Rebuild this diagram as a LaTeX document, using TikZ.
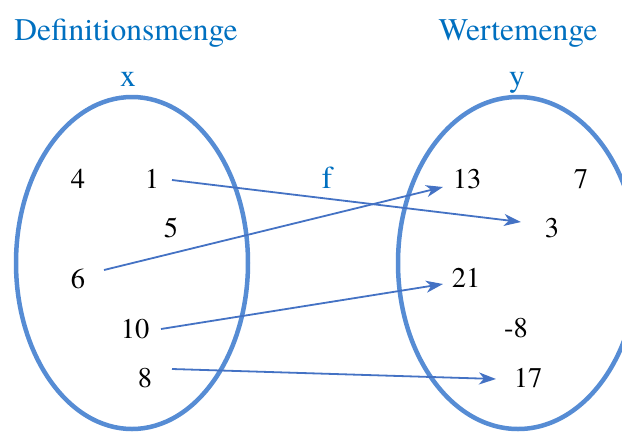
\documentclass[tikz,border=0pt]{standalone}
\usepackage{fontspec}
\setmainfont{texgyretermes-regular.otf}
\usetikzlibrary{arrows.meta}
\definecolor{ringblue}{RGB}{86,140,212}
\definecolor{arrowblue}{RGB}{68,114,196}
\definecolor{titleblue}{RGB}{0,112,192}
\tikzset{
  ring/.style={draw=ringblue, line width=4.5pt},
  num/.style={anchor=base, inner sep=0pt, font=\fontsize{28.5}{34}\selectfont, text=black},
  head/.style={anchor=base, inner sep=0pt, font=\fontsize{31.5}{36}\selectfont, text=titleblue},
  maparrow/.style={draw=arrowblue, line width=1.8pt, -{Stealth[length=17pt, width=12pt, inset=5pt]}}
}
\begin{document}
\begin{tikzpicture}[x=1pt,y=-1pt]
\useasboundingbox (0,0) rectangle (622,432);
\clip (0,0) rectangle (622,432);
\fill[white] (0,0) rectangle (622,432);
% sets
\draw[ring] (132,263) ellipse [x radius=116pt, y radius=166pt];
\draw[ring] (518,263) ellipse [x radius=120pt, y radius=166pt];
% headings
\node[head] (hdef) at (126,40) {Definitionsmenge};
\node[head] (hx) at (128,86) {x};
\node[head] (hwert) at (518,40) {Wertemenge};
\node[head] (hy) at (517,86) {y};
\node[head] (f) at (327,188) {f};
% domain
\node[num] (n4) at (78,188) {4};
\node[num] (n1) at (152,188) {1};
\node[num] (n5) at (171,237) {5};
\node[num] (n6) at (78,288) {6};
\node[num] (n10) at (135,338) {10};
\node[num] (n8) at (145,387) {8};
% codomain
\node[num] (n13) at (467,188) {13};
\node[num] (n7) at (581,188) {7};
\node[num] (n3) at (552,237) {3};
\node[num] (n21) at (466,287) {21};
\node[num] (nm8) at (516,337) {-8};
\node[num] (n17) at (528,387) {17};
% arrow end points
\coordinate (s1) at (172,180);
\coordinate (e3) at (521,222);
\coordinate (s6) at (104,270);
\coordinate (e13) at (443,187);
\coordinate (s10) at (161,329);
\coordinate (e21) at (443,284);
\coordinate (s8) at (172,369);
\coordinate (e17) at (496,379);
\draw[maparrow] (s1) -- (e3);
\draw[maparrow] (s6) -- (e13);
\draw[maparrow] (s10) -- (e21);
\draw[maparrow] (s8) -- (e17);
\end{tikzpicture}
\end{document}
